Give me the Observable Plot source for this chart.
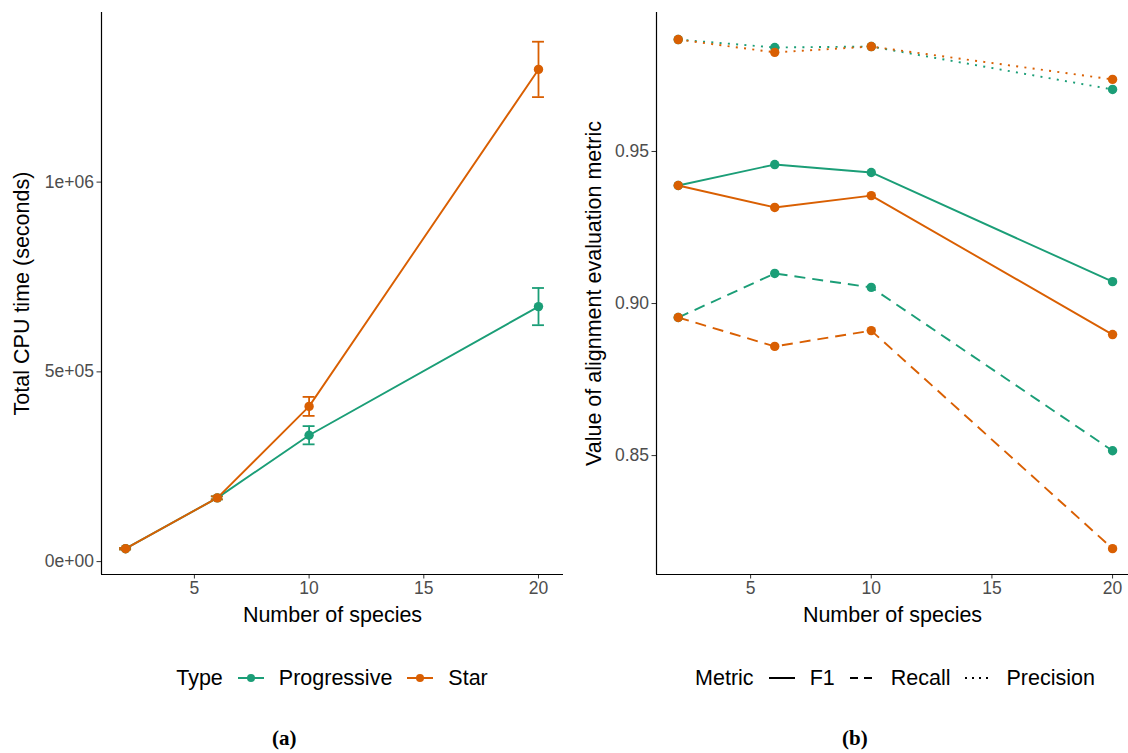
<!DOCTYPE html>
<html><head><meta charset="utf-8">
<script src="https://cdn.jsdelivr.net/npm/d3@7"></script>
<script src="https://cdn.jsdelivr.net/npm/@observablehq/plot@0.6"></script>
<style>
body{margin:0;background:#fff;font-family:"Liberation Sans",Arial,sans-serif;}
#wrap{position:relative;width:1128px;height:753px;overflow:hidden;}
.panel{position:absolute;top:0;}
.legend{position:absolute;top:663px;height:30px;display:flex;align-items:center;font-size:21.5px;color:#000;white-space:nowrap;}
.legend .key{display:inline-block;margin:0 14px 0 14px;}
.caption{position:absolute;top:726px;font-family:"Liberation Serif","DejaVu Serif",serif;font-weight:bold;font-size:21px;}
</style></head>
<body><div id="wrap">
<div id="pa" class="panel" style="left:0"></div>
<div id="pb" class="panel" style="left:574px"></div>
<div id="la" class="legend"></div>
<div id="lb" class="legend"></div>
<div class="caption" style="left:272px">(a)</div>
<div class="caption" style="left:842px">(b)</div>
</div>
<script>
// ---- data ----
const species = [2, 6, 10, 20];
const types = ["Progressive", "Star"];
const typeColors = ["#1B9E77", "#D95F02"];
const cpuProgressive = [34000, 168000, 333000, 672000];
const cpuProgressiveErr = [2000, 4000, 24000, 49000];
const cpuStar = [34000, 168000, 409000, 1297000];
const cpuStarErr = [2000, 4000, 25000, 73000];

const metrics = ["F1", "Recall", "Precision"];
const metricDash = ["none", "11,7", "2,6.3"];
const f1Progressive = [0.9388, 0.9457, 0.9431, 0.9072];
const f1Star = [0.9388, 0.9316, 0.9355, 0.8898];
const recallProgressive = [0.8954, 0.9099, 0.9053, 0.8516];
const recallStar = [0.8954, 0.8859, 0.8911, 0.8194];
const precisionProgressive = [0.9868, 0.9842, 0.9845, 0.9704];
const precisionStar = [0.9868, 0.9826, 0.9845, 0.9737];

const xTicks = [5, 10, 15, 20];
const cpuTicks = [0, 500000, 1000000];
const metricTicks = [0.85, 0.90, 0.95];
const xLabel = "Number of species";
const cpuLabel = "Total CPU time (seconds)";
const metricLabel = "Value of alignment evaluation metric";

// ---- tables ----
const cpuRows = [];
species.forEach((s, i) => {
  cpuRows.push({species: s, type: "Progressive", cpu: cpuProgressive[i], err: cpuProgressiveErr[i]});
});
species.forEach((s, i) => {
  cpuRows.push({species: s, type: "Star", cpu: cpuStar[i], err: cpuStarErr[i]});
});
const metricSeries = {
  "Progressive|F1": f1Progressive, "Star|F1": f1Star,
  "Progressive|Recall": recallProgressive, "Star|Recall": recallStar,
  "Progressive|Precision": precisionProgressive, "Star|Precision": precisionStar
};
const metricRows = [];
for (const m of metrics) for (const t of types) {
  metricSeries[t + "|" + m].forEach((v, i) => metricRows.push({species: species[i], type: t, metric: m, value: v}));
}

const sciFmt = d => {
  const [m, e] = d.toExponential(0).split("e");
  return m + "e" + e[0] + e.slice(1).padStart(2, "0");
};
const font = "'Liberation Sans', Arial, sans-serif";
const colorScale = {domain: types, range: typeColors};
const capHalf = 0.26;

// ---- panel a ----
const xDomA = [0.95, 21.09];
const yDomA = [-34000, 1447000];
const plotA = Plot.plot({
  width: 574, height: 630,
  marginLeft: 101, marginRight: 11, marginTop: 12, marginBottom: 56,
  style: {fontFamily: font, fontSize: "17.5px", background: "white", overflow: "visible"},
  x: {domain: xDomA},
  y: {domain: yDomA},
  color: colorScale,
  marks: [
    Plot.axisX({ticks: xTicks, tickSize: 4.5, tickPadding: 3, stroke: "#333", fill: "#4d4d4d", label: null, fontSize: 17.5}),
    Plot.axisY({ticks: cpuTicks, tickSize: 4.5, tickPadding: 3, stroke: "#333", fill: "#4d4d4d", label: null, tickFormat: sciFmt, fontSize: 17.5}),
    Plot.ruleY([yDomA[0]], {stroke: "black", strokeWidth: 1.2}),
    Plot.ruleX([xDomA[0]], {stroke: "black", strokeWidth: 1.2}),
    Plot.ruleX(cpuRows, {x: "species", y1: d => d.cpu - d.err, y2: d => d.cpu + d.err, stroke: "type", strokeWidth: 1.8}),
    Plot.ruleY(cpuRows, {y: d => d.cpu - d.err, x1: d => d.species - capHalf, x2: d => d.species + capHalf, stroke: "type", strokeWidth: 1.8}),
    Plot.ruleY(cpuRows, {y: d => d.cpu + d.err, x1: d => d.species - capHalf, x2: d => d.species + capHalf, stroke: "type", strokeWidth: 1.8}),
    Plot.line(cpuRows, {x: "species", y: "cpu", stroke: "type", z: "type", strokeWidth: 1.9}),
    Plot.dot(cpuRows, {x: "species", y: "cpu", fill: "type", r: 4.7}),
    Plot.text([xLabel], {frameAnchor: "bottom", dy: 47, fill: "black", fontSize: 21.5, textAnchor: "middle"}),
    Plot.text([cpuLabel], {frameAnchor: "left", rotate: -90, dx: -79, fill: "black", fontSize: 21.5, textAnchor: "middle"})
  ]
});
document.getElementById("pa").appendChild(plotA);

// ---- panel b ----
const xDomB = [1.1, 20.66];
const yDomB = [0.8109, 0.9957];
const plotB = Plot.plot({
  width: 554, height: 630,
  marginLeft: 82, marginRight: 0, marginTop: 12, marginBottom: 56,
  style: {fontFamily: font, fontSize: "17.5px", background: "white", overflow: "visible"},
  x: {domain: xDomB},
  y: {domain: yDomB},
  color: colorScale,
  marks: [
    Plot.axisX({ticks: xTicks, tickSize: 4.5, tickPadding: 3, stroke: "#333", fill: "#4d4d4d", label: null, fontSize: 17.5}),
    Plot.axisY({ticks: metricTicks, tickSize: 4.5, tickPadding: 3, stroke: "#333", fill: "#4d4d4d", label: null, tickFormat: d3.format(".2f"), fontSize: 17.5}),
    Plot.ruleY([yDomB[0]], {stroke: "black", strokeWidth: 1.2}),
    Plot.ruleX([xDomB[0]], {stroke: "black", strokeWidth: 1.2}),
    ...metrics.map((m, k) => Plot.line(metricRows.filter(d => d.metric === m), {
      x: "species", y: "value", stroke: "type", z: "type", strokeWidth: 1.9,
      strokeDasharray: metricDash[k], strokeLinecap: "butt"
    })),
    Plot.dot(metricRows, {x: "species", y: "value", fill: "type", r: 4.7}),
    Plot.text([xLabel], {frameAnchor: "bottom", dy: 47, fill: "black", fontSize: 21.5, textAnchor: "middle"}),
    Plot.text([metricLabel], {frameAnchor: "left", rotate: -90, dx: -62, fill: "black", fontSize: 21.5, textAnchor: "middle"})
  ]
});
document.getElementById("pb").appendChild(plotB);

// ---- legends ----
function swatchLine(color, dash, withDot) {
  const w = 28, h = 20;
  return `<svg width="${w}" height="${h}" style="display:block"><line x1="1" x2="${w-1}" y1="${h/2}" y2="${h/2}" stroke="${color}" stroke-width="2" ${dash !== "none" ? `stroke-dasharray="${dash}"` : ""}/>${withDot ? `<circle cx="${w/2}" cy="${h/2}" r="4" fill="${color}"/>` : ""}</svg>`;
}
const la = document.getElementById("la");
la.innerHTML = `<span>Type</span>` + types.map((t, i) =>
  `<span class="key">${swatchLine(typeColors[i], "none", true)}</span><span>${t}</span>`).join("");
const lb = document.getElementById("lb");
const legendDash = ["none", "8,6", "2,5"];
lb.innerHTML = `<span>Metric</span>` + metrics.map((m, i) =>
  `<span class="key">${swatchLine("#000", legendDash[i], false)}</span><span>${m}</span>`).join("");
const wa = la.getBoundingClientRect().width;
la.style.left = (332 - wa / 2) + "px";
const wb = lb.getBoundingClientRect().width;
lb.style.left = (895 - wb / 2) + "px";
</script>
</body></html>
